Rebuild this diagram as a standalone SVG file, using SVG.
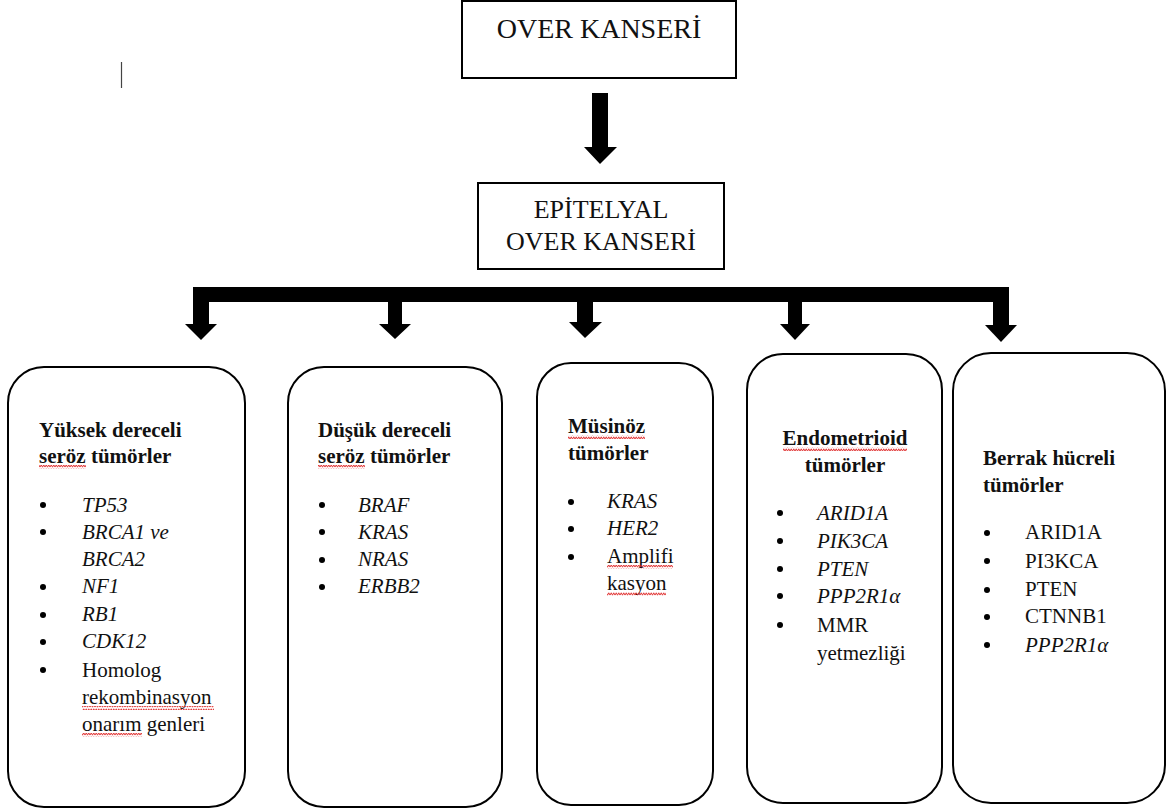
<svg xmlns="http://www.w3.org/2000/svg" width="1171" height="809" viewBox="0 0 1171 809">
<defs>
<style>
.box{fill:#fff;stroke:#000;stroke-width:2}
.rbox{fill:#fff;stroke:#000;stroke-width:2}
.top{font-family:"Liberation Serif","Times New Roman",serif;font-size:28px;fill:#111;text-anchor:middle}
.mid{font-family:"Liberation Serif","Times New Roman",serif;font-size:26px;fill:#111;text-anchor:middle}
.ttl{font-family:"Liberation Serif","Times New Roman",serif;font-size:21px;font-weight:bold;fill:#111}
.it{font-family:"Liberation Serif","Times New Roman",serif;font-size:21px;font-style:italic;fill:#111}
.rg{font-family:"Liberation Serif","Times New Roman",serif;font-size:21px;fill:#111}
.arr{fill:#000}
.wave{fill:url(#wavy)}
</style>
<pattern id="wavy" x="0" y="0" width="5" height="4" patternUnits="userSpaceOnUse">
<path d="M0,3.2 L1.25,0.8 L2.5,3.2 L3.75,0.8 L5,3.2" fill="none" stroke="#d22" stroke-width="0.9"/>
</pattern>
</defs>

<line x1="121.5" y1="62" x2="121.5" y2="88" stroke="#444" stroke-width="1.2"/>

<g id="node-over-kanseri">
<rect class="box" x="462" y="1" width="274" height="77"/>
<text class="top" x="599" y="38">OVER KANSERİ</text>
</g>

<g id="node-epitelyal">
<rect class="box" x="478" y="183" width="246" height="86"/>
<text class="mid" x="601" y="218">EPİTELYAL</text>
<text class="mid" x="601" y="250">OVER KANSERİ</text>
</g>

<g id="connectors">
<polygon class="arr" points="592,93 608,93 608,147 617,147 600,164 584,147 592,147"/>
<path class="arr" d="M193,325 V287 H1009 V325 H993 V302 H209 V325 Z"/>
<polygon class="arr" points="185,324 217,324 201,340"/>
<polygon class="arr" points="985,325 1017,325 1001,342"/>
<polygon class="arr" points="388,301 402,301 402,324 411,324 395,339 379,324 388,324"/>
<polygon class="arr" points="577,301 593,301 593,322 602,322 585,338 569,322 577,322"/>
<polygon class="arr" points="788,301 802,301 802,324 810,324 795,340 780,324 788,324"/>
</g>

<g id="node-yuksek">
<rect class="rbox" x="8" y="367" width="237" height="440" rx="36" ry="36"/>
<text class="ttl" x="39" y="437">Yüksek dereceli</text>
<text class="ttl" x="39" y="463">seröz tümörler</text>
<rect class="wave" x="39" y="465" width="47" height="4"/>
<circle cx="43" cy="505" r="3"/><circle cx="43" cy="532" r="3"/><circle cx="43" cy="587" r="3"/><circle cx="43" cy="615" r="3"/><circle cx="43" cy="642" r="3"/><circle cx="43" cy="670" r="3"/>
<text class="it" x="82" y="512">TP53</text>
<text class="it" x="82" y="539">BRCA1 ve</text>
<text class="it" x="82" y="566">BRCA2</text>
<text class="it" x="82" y="593">NF1</text>
<text class="it" x="82" y="621">RB1</text>
<text class="it" x="82" y="648">CDK12</text>
<text class="rg" x="82" y="677">Homolog</text>
<text class="rg" x="82" y="704">rekombinasyon</text>
<text class="rg" x="82" y="731">onarım genleri</text>
<rect class="wave" x="82" y="706" width="132" height="4"/>
<rect class="wave" x="82" y="733" width="60" height="4"/>
</g>

<g id="node-dusuk">
<rect class="rbox" x="288" y="367" width="214" height="440" rx="36" ry="36"/>
<text class="ttl" x="318" y="437">Düşük dereceli</text>
<text class="ttl" x="318" y="463">seröz tümörler</text>
<rect class="wave" x="318" y="465" width="47" height="4"/>
<circle cx="322" cy="505" r="3"/><circle cx="322" cy="532" r="3"/><circle cx="322" cy="560" r="3"/><circle cx="322" cy="587" r="3"/>
<text class="it" x="358" y="512">BRAF</text>
<text class="it" x="358" y="539">KRAS</text>
<text class="it" x="358" y="566">NRAS</text>
<text class="it" x="358" y="593">ERBB2</text>
</g>

<g id="node-musinoz">
<rect class="rbox" x="537" y="363" width="176" height="442" rx="34" ry="34"/>
<text class="ttl" x="568" y="433">Müsinöz</text>
<rect class="wave" x="568" y="435" width="77" height="4"/>
<text class="ttl" x="568" y="460">tümörler</text>
<circle cx="571" cy="502" r="3"/><circle cx="571" cy="529" r="3"/><circle cx="571" cy="557" r="3"/>
<text class="it" x="607" y="508">KRAS</text>
<text class="it" x="607" y="535">HER2</text>
<text class="rg" x="607" y="563">Amplifi</text>
<text class="rg" x="607" y="590">kasyon</text>
<rect class="wave" x="607" y="565" width="66" height="4"/>
<rect class="wave" x="607" y="592" width="59" height="4"/>
</g>

<g id="node-endometrioid">
<rect class="rbox" x="747" y="354" width="195" height="449" rx="36" ry="36"/>
<text class="ttl" x="845" y="445" text-anchor="middle">Endometrioid</text>
<rect class="wave" x="783" y="447" width="124" height="4"/>
<text class="ttl" x="845" y="472" text-anchor="middle">tümörler</text>
<circle cx="780" cy="513" r="3"/><circle cx="780" cy="541" r="3"/><circle cx="780" cy="569" r="3"/><circle cx="780" cy="596" r="3"/><circle cx="780" cy="625" r="3"/>
<text class="it" x="817" y="520">ARID1A</text>
<text class="it" x="817" y="548">PIK3CA</text>
<text class="it" x="817" y="576">PTEN</text>
<text class="it" x="817" y="603">PPP2R1α</text>
<text class="rg" x="817" y="632">MMR</text>
<text class="rg" x="817" y="660">yetmezliği</text>
</g>

<g id="node-berrak">
<rect class="rbox" x="953" y="353" width="212" height="450" rx="38" ry="38"/>
<text class="ttl" x="983" y="465">Berrak hücreli</text>
<text class="ttl" x="983" y="492">tümörler</text>
<circle cx="987" cy="533" r="3"/><circle cx="987" cy="561" r="3"/><circle cx="987" cy="590" r="3"/><circle cx="987" cy="617" r="3"/><circle cx="987" cy="645" r="3"/>
<text class="rg" x="1025" y="539">ARID1A</text>
<text class="rg" x="1025" y="568">PI3KCA</text>
<text class="rg" x="1025" y="596">PTEN</text>
<text class="rg" x="1025" y="623">CTNNB1</text>
<text class="it" x="1025" y="652">PPP2R1α</text>
</g>
</svg>
